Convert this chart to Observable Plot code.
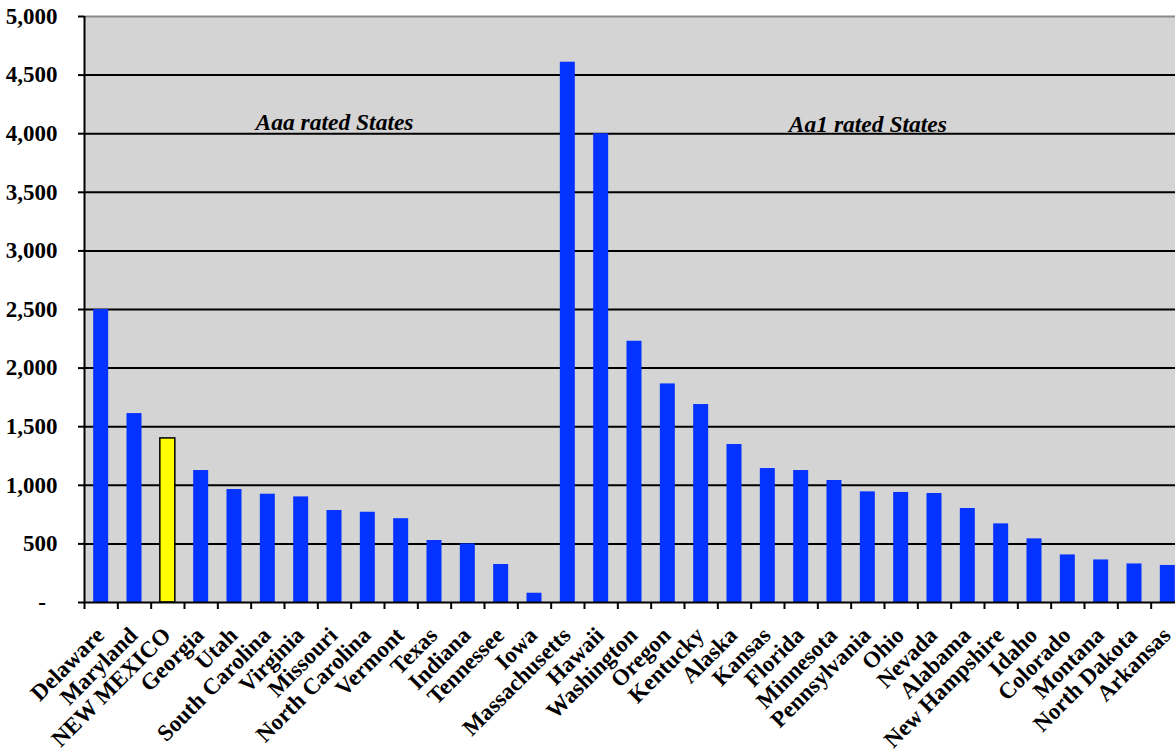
<!DOCTYPE html>
<html>
<head>
<meta charset="utf-8">
<script src="https://cdn.jsdelivr.net/npm/d3@7"></script>
<script src="https://cdn.jsdelivr.net/npm/@observablehq/plot@0.6"></script>
<style>
  html, body { margin: 0; padding: 0; background: #fff; overflow: hidden; }
  #chart svg { display: block; max-width: none !important; }
</style>
</head>
<body>
<div id="chart"></div>
<script>
// State names in plotted order (Aaa-rated first, then Aa1-rated)
const states = [
  "Delaware", "Maryland", "NEW MEXICO", "Georgia", "Utah", "South Carolina",
  "Virginia", "Missouri", "North Carolina", "Vermont", "Texas", "Indiana",
  "Tennessee", "Iowa",
  "Massachusetts", "Hawaii", "Washington", "Oregon", "Kentucky", "Alaska",
  "Kansas", "Florida", "Minnesota", "Pennsylvania", "Ohio", "Nevada",
  "Alabama", "New Hampshire", "Idaho", "Colorado", "Montana", "North Dakota",
  "Arkansas"
];
const values = [
  2500, 1612, 1400, 1126, 964, 924,
  901, 785, 770, 715, 529, 500,
  324, 79,
  4610, 4000, 2229, 1865, 1689, 1348,
  1143, 1126, 1041, 944, 939, 930,
  802, 671, 543, 406, 363, 329,
  316
];
const highlight = "NEW MEXICO";
const yTicks = [0, 500, 1000, 1500, 2000, 2500, 3000, 3500, 4000, 4500, 5000];
const groupLabels = ["Aaa rated States", "Aa1 rated States"];
const groupAt = ["Missouri", "Pennsylvania"];
const groupY = [4100, 4080];

const data = states.map((s, i) => ({state: s, value: values[i]}));
const groups = groupLabels.map((t, i) => ({text: t, state: groupAt[i], y: groupY[i]}));

const width = 1184, height = 751;
const marginLeft = 84, marginRight = 0, marginTop = 16, marginBottom = 149;
const step = (width - marginLeft - marginRight) / states.length;
const font = "'Liberation Serif', 'Times New Roman', serif";

// zero is shown as a dash, accounting style
const fmt = v => v === 0 ? "-\u00a0\u00a0" : d3.format(",")(v);

const chart = Plot.plot({
  width, height, marginLeft, marginRight, marginTop, marginBottom,
  style: {fontFamily: font, fontSize: "22px", fontWeight: "bold", color: "black", background: "white"},
  x: {domain: states, paddingInner: 0.55, paddingOuter: 0.275, round: false, axis: null},
  y: {domain: [0, 5000], axis: null},
  marks: [
    Plot.frame({fill: "#d4d4d4", stroke: null}),
    Plot.ruleY(yTicks.filter(v => v > 0 && v < 5000), {stroke: "black", strokeWidth: 2}),
    Plot.ruleY([5000], {stroke: "#8a8a8a", strokeWidth: 2}),
    Plot.barY(data, {
      x: "state", y: "value",
      fill: d => d.state === highlight ? "#ffff00" : "#0433ff",
      stroke: d => d.state === highlight ? "black" : "none",
      strokeWidth: 1.5,
      inset: 0
    }),
    Plot.ruleY([0], {stroke: "black", strokeWidth: 2}),
    Plot.ruleX([states[0]], {dx: -step / 2, stroke: "black", strokeWidth: 2}),
    // category separators on the x axis
    Plot.axisX({ticks: states, tickSize: 7, tickFormat: () => "", dx: -step / 2, strokeWidth: 2, label: null}),
    Plot.axisY({ticks: yTicks, tickSize: 6, tickPadding: 21, tickFormat: fmt, strokeWidth: 2, label: null, fontSize: 23, fill: "black"}),
    Plot.text(states, {
      x: d => d, frameAnchor: "bottom", dy: 29, dx: -1,
      rotate: -45, textAnchor: "end", lineAnchor: "middle",
      fontSize: 23, fontWeight: "bold", fill: "black"
    }),
    Plot.text(groups, {
      x: "state", y: "y", text: "text",
      fontSize: 23.5, fontWeight: "bold", fontStyle: "italic", fill: "black"
    })
  ]
});

document.getElementById("chart").appendChild(chart);
</script>
</body>
</html>
